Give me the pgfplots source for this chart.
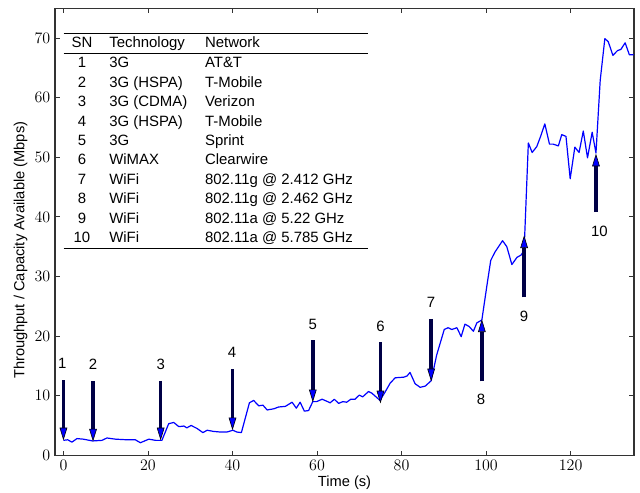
\documentclass[border=0pt]{standalone}
\usepackage{pgfplots}
\pgfplotsset{compat=1.18}
\usepackage{fontspec}
\setmainfont{Liberation Sans}
\usepackage{array}
\usetikzlibrary{arrows.meta}
\definecolor{shaft}{RGB}{0,0,70}
\tikzset{myarrow/.style={line width=2.6pt, color=shaft, -{Triangle[length=9.5pt, width=5.7pt, line width=0.45pt, fill=blue, color=black]}}}
\begin{document}
\begin{tikzpicture}
\begin{axis}[
  scale only axis, width=434.25pt, height=335.25pt,
  xmin=-2, xmax=135, ymin=0, ymax=75,
  xtick={0,20,...,120}, ytick={0,10,...,70},
  tick align=inside, major tick length=3.5pt,
  xtick pos=both, ytick pos=both,
  xticklabel pos=lower, yticklabel pos=left,
  tick label style={font=\fontsize{11.5}{13}\selectfont},
  tick style={black!80, line width=0.6pt},
  axis line style={black!80, line width=0.8pt},
  xlabel={Time (s)},
  ylabel={Throughput / Capacity Available (Mbps)},
  label style={font=\fontsize{11}{13}\selectfont},
  xlabel style={at={(axis description cs:0.5,-0.0604)}, anchor=center},
  ylabel style={at={(axis description cs:-0.0596,0.4586)}, anchor=center},
]
\coordinate (BL) at (rel axis cs:0,0);
\coordinate (TR) at (rel axis cs:1,1);
\addplot[blue, line width=0.9pt, line join=round] coordinates {
(0,2.5) (1,2.6) (2,2.2) (3.2,2.8) (4.7,2.7) (6.9,2.4) (9.1,2.5) (10.3,2.9)
(12.3,2.7) (15,2.6) (17,2.6) (18.2,2.1) (20.2,2.7) (21.8,2.5) (23.3,2.5)
(24.9,5.3) (26.1,5.5) (27.3,4.8) (28.5,4.9) (29.2,4.6) (30.2,5.0) (31.6,4.5)
(33.0,3.8) (34.0,4.2) (35.5,4.0) (37.1,3.9) (38.7,3.9) (40.1,4.2) (41.0,3.9)
(42.1,3.8) (44.0,8.8) (45.0,9.2) (46.2,8.3) (47.2,8.4) (48.2,7.6) (49.8,7.8)
(50.9,8.1) (52.5,8.2) (54.1,8.9) (55.1,7.9) (56.0,8.9) (57.0,7.4) (58.0,7.5)
(59.0,9.0) (59.9,9.0) (61.2,9.4) (62.2,9.1) (63.1,8.8) (64.1,9.4) (65.1,8.7)
(66.1,9.0) (67.0,8.9) (68.0,9.4) (69.0,9.4) (70.0,10.1) (70.8,9.8) (72.2,10.7)
(73.0,10.4) (74.9,9.2) (76.1,10.6) (77.3,12.1) (78.5,13.0) (80.5,13.1) (81.3,13.3)
(82.0,13.9) (83.2,12.0) (84.4,11.4) (85.6,11.6) (87.0,12.5) (88.3,16.8) (90.1,21.1)
(91.0,21.4) (91.9,21.1) (93.1,21.4) (94.1,19.9) (95.0,22.0) (96.0,21.6) (97.0,20.8)
(97.8,22.2) (99.0,22.7) (100.2,28.5) (101.1,32.7) (102.1,34.1) (103.9,36.0) (104.9,35.0)
(106.1,32.0) (107.3,33.2) (108.3,33.6) (109.0,34.4) (110.0,52.4) (110.9,50.8) (112.0,51.8)
(113.0,53.7) (113.9,55.6) (115.0,52.2) (115.9,52.2) (117.1,51.9) (117.9,53.8) (118.9,53.5)
(119.9,46.4) (121.0,51.7) (122.0,50.8) (123.0,54.4) (124.0,49.9) (125.1,54.2) (126.0,50.7)
(127.0,62.9) (128.1,69.9) (128.9,69.4) (130.0,67.1) (131.1,67.9) (131.9,68.1) (132.9,69.2)
(133.9,67.2) (134.9,67.2)
};
\addplot[myarrow] coordinates {(0,12.6) (0,2.5)};
\addplot[myarrow] coordinates {(7,12.4) (7,2.3)};
\addplot[myarrow] coordinates {(23,12.5) (23,2.5)};
\addplot[myarrow] coordinates {(40,14.4) (40,4.2)};
\addplot[myarrow] coordinates {(59,19.3) (59,8.9)};
\addplot[myarrow] coordinates {(75,19.0) (75,8.7)};
\addplot[myarrow] coordinates {(87,22.9) (87,12.4)};
\addplot[myarrow] coordinates {(99,12.4) (99,22.8)};
\addplot[myarrow] coordinates {(109,26.5) (109,36.9)};
\addplot[myarrow] coordinates {(126,40.8) (126,50.6)};
\begin{scope}[every node/.style={font=\fontsize{11.2}{13}\selectfont, inner sep=0pt, anchor=center}]
\node at (axis cs:-0.3,15.4) {1};
\node at (axis cs:7,15.2) {2};
\node at (axis cs:23,15.3) {3};
\node at (axis cs:39.9,17.2) {4};
\node at (axis cs:59,22.0) {5};
\node at (axis cs:75,21.6) {6};
\node at (axis cs:87,25.6) {7};
\node at (axis cs:98.8,9.4) {8};
\node at (axis cs:109,23.3) {9};
\node at (axis cs:126.8,37.5) {10};
\end{scope}
\node[anchor=north west, inner sep=0pt, font=\fontsize{11.2}{14.55}\selectfont] at (axis cs:0,70.9) {%
\setlength{\tabcolsep}{0pt}\setlength{\arrayrulewidth}{0.75pt}%
\begin{tabular}{>{\centering\arraybackslash}p{27.4pt}@{\hspace{6.8pt}}p{71.8pt}p{122pt}}
\hline
SN & Technology & Network\\
\hline
1 & 3G & AT\&T\\
2 & 3G (HSPA) & T-Mobile\\
3 & 3G (CDMA) & Verizon\\
4 & 3G (HSPA) & T-Mobile\\
5 & 3G & Sprint\\
6 & WiMAX & Clearwire\\
7 & WiFi & 802.11g @ 2.412 GHz\\
8 & WiFi & 802.11g @ 2.462 GHz\\
9 & WiFi & 802.11a @ 5.22 GHz\\
10 & WiFi & 802.11a @ 5.785 GHz\\
\hline
\end{tabular}};
\end{axis}
\pgfresetboundingbox
\path ([shift={(-41.25pt,-27.75pt)}]BL) rectangle ([shift={(4.5pt,6.2pt)}]TR);
\end{tikzpicture}
\end{document}
